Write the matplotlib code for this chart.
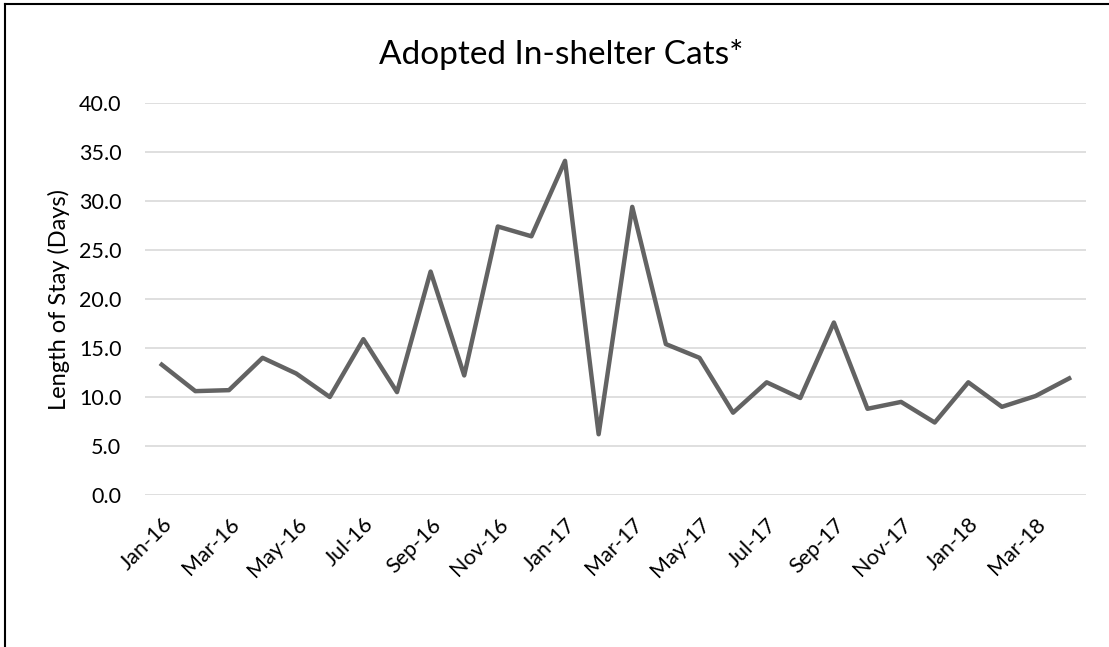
import matplotlib.pyplot as plt
from matplotlib.lines import Line2D

plt.rcParams['font.family'] = ['Lato', 'DejaVu Sans']

# monthly labels Jan-16 .. Apr-18
months = ["Jan-16", "Feb-16", "Mar-16", "Apr-16", "May-16", "Jun-16", "Jul-16",
          "Aug-16", "Sep-16", "Oct-16", "Nov-16", "Dec-16", "Jan-17", "Feb-17",
          "Mar-17", "Apr-17", "May-17", "Jun-17", "Jul-17", "Aug-17", "Sep-17",
          "Oct-17", "Nov-17", "Dec-17", "Jan-18", "Feb-18", "Mar-18", "Apr-18"]
stay_days = [13.3, 10.6, 10.7, 14.0, 12.4, 10.0, 15.9, 10.5, 22.8, 12.2, 27.4, 26.4,
             34.1, 6.2, 29.4, 15.4, 14.0, 8.4, 11.5, 9.9, 17.6, 8.8, 9.5, 7.4,
             11.5, 9.0, 10.1, 11.9]
y_ticks = [0, 5, 10, 15, 20, 25, 30, 35, 40]

fig = plt.figure(figsize=(11.09, 6.47), dpi=100)
ax = fig.add_axes([0.1307, 0.2349, 0.8485, 0.6059])

x = list(range(len(months)))
ax.plot(x, stay_days, color="#636363", linewidth=3.2, solid_joinstyle="round", zorder=3)

ax.set_xlim(-0.5, len(months) - 0.5)
ax.set_ylim(0, 40)
ax.set_yticks(y_ticks)
ax.set_yticklabels(["{:.1f}".format(v) for v in y_ticks], fontsize=15.5, color="#000000")
ax.set_xticks(x[::2])
ax.set_xticklabels(months[::2], rotation=45, ha="right", rotation_mode="anchor",
                   fontsize=15.5)

ax.grid(axis="y", color="#d9d9d9", linewidth=1.2)
ax.set_axisbelow(True)
for s in ax.spines.values():
    s.set_visible(False)
ax.tick_params(axis="y", length=0, pad=17)
ax.tick_params(axis="x", length=0, pad=14)

ax.set_ylabel("Length of Stay (Days)", fontsize=17, labelpad=6)
fig.text(0.506, 0.915, "Adopted In-shelter Cats*", fontsize=24, ha="center", va="center")

# outer border (only left and top edges show in the picture)
fig.add_artist(Line2D([0.0047, 0.0047], [0, 0.994], color="black", linewidth=1.5,
                      transform=fig.transFigure))
fig.add_artist(Line2D([0.0047, 1.0], [0.994, 0.994], color="black", linewidth=1.5,
                      transform=fig.transFigure))

fig.savefig("out.png", dpi=100)
